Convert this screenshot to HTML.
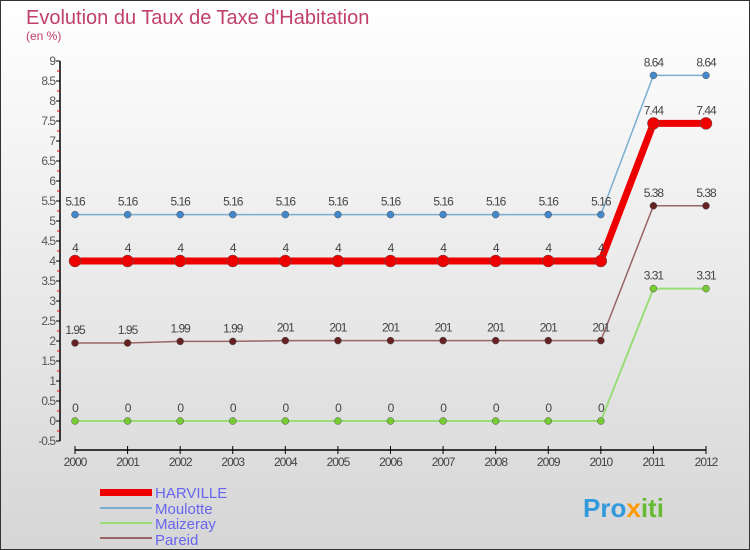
<!DOCTYPE html>
<html><head><meta charset="utf-8"><style>
body{margin:0;width:750px;height:550px;overflow:hidden;font-family:"Liberation Sans",sans-serif}
svg{display:block}
</style></head><body>
<svg id="chart" width="750" height="550" xmlns="http://www.w3.org/2000/svg">
<defs><linearGradient id="bg" x1="0" y1="0" x2="0" y2="1"><stop offset="0" stop-color="#ffffff"/><stop offset="1" stop-color="#d6d6d6"/></linearGradient></defs>
<rect x="0.5" y="0.5" width="749" height="549" fill="url(#bg)" stroke="#333"/>
<text x="26" y="24" font-size="20" fill="#c0406a">Evolution du Taux de Taxe d'Habitation</text>
<text x="26" y="40" font-size="12" fill="#c0406a">(en %)</text>
<g id="axes"></g><g id="series"></g>
<g>
<rect x="100" y="489" width="52" height="7" fill="#ee0000"/>
<text x="155" y="498" font-size="15" fill="#6666ee">HARVILLE</text>
<line x1="100" y1="508" x2="152" y2="508" stroke="#7aaed0" stroke-width="2"/>
<text x="155" y="514" font-size="15" fill="#6666ee">Moulotte</text>
<line x1="100" y1="523" x2="152" y2="523" stroke="#99dd77" stroke-width="2"/>
<text x="155" y="529" font-size="15" fill="#6666ee">Maizeray</text>
<line x1="100" y1="538" x2="152" y2="538" stroke="#996666" stroke-width="2"/>
<text x="155" y="545" font-size="15" fill="#6666ee">Pareid</text>
</g>
<text x="583" y="517" font-size="26" font-weight="bold" fill="#3399dd">Pro<tspan fill="#ff9900">x</tspan><tspan fill="#66bb33">iti</tspan></text>
</svg>
<script>
const years=[2000,2001,2002,2003,2004,2005,2006,2007,2008,2009,2010,2011,2012];
const harville=[4,4,4,4,4,4,4,4,4,4,4,7.44,7.44];
const moulotte=[5.16,5.16,5.16,5.16,5.16,5.16,5.16,5.16,5.16,5.16,5.16,8.64,8.64];
const maizeray=[0,0,0,0,0,0,0,0,0,0,0,3.31,3.31];
const pareid=[1.95,1.95,1.99,1.99,2.01,2.01,2.01,2.01,2.01,2.01,2.01,5.38,5.38];
const yTicks=[-0.5,0,0.5,1,1.5,2,2.5,3,3.5,4,4.5,5,5.5,6,6.5,7,7.5,8,8.5,9];
const NS="http://www.w3.org/2000/svg";
const x=i=>75+i*(706-75)/(years.length-1);
const y=v=>421-v*40;
function mk(tag,attrs,parent){const e=document.createElementNS(NS,tag);for(const k in attrs)e.setAttribute(k,attrs[k]);parent.appendChild(e);return e;}
const ax=document.getElementById('axes');
let a=mk('line',{x1:60,y1:y(9),x2:60,y2:y(-0.5),stroke:'#000','stroke-width':1.5},ax);


yTicks.forEach((v,k)=>{
  mk('line',{x1:56,y1:y(v),x2:60,y2:y(v),stroke:'#000'},ax);
  if(k<yTicks.length-1) mk('line',{x1:57,y1:y(v+0.25),x2:60,y2:y(v+0.25),stroke:'#e00'},ax);
  const t=mk('text',{x:55,y:y(v)+4,'font-size':12,fill:'#555','text-anchor':'end','letter-spacing':'-1'},ax);
  t.textContent=String(v);
  
  
});
a=mk('line',{x1:75,y1:450,x2:706,y2:450,stroke:'#000','stroke-width':1.5},ax);


years.forEach((yr,i)=>{
  mk('line',{x1:x(i),y1:446,x2:x(i),y2:454,stroke:'#000'},ax);
  const t=mk('text',{x:x(i),y:466,'font-size':12,fill:'#444','text-anchor':'middle','letter-spacing':'-1'},ax);
  t.textContent=yr;
  
  
});
const sg=document.getElementById('series');
function fmt(v){return v===0?'0':(Number.isInteger(v)?String(v):String(v).replace('2.01','201'));}
function draw(vals,color,w,r,dot,name){
  const g=mk('g',{},sg);
  
  
  mk('polyline',{points:vals.map((v,i)=>x(i)+','+y(v)).join(' '),fill:'none',stroke:color,'stroke-width':w},g);
  vals.forEach((v,i)=>{
    const c=mk('circle',{cx:x(i),cy:y(v),r:r,fill:dot,stroke:'#555','stroke-width':0.5},g);
    
    
    const t=mk('text',{x:x(i),y:y(v)-9,'font-size':12,fill:'#444','text-anchor':'middle','letter-spacing':'-1'},g);
    t.textContent=fmt(v);
    
    
  });
}
draw(maizeray,'#99dd77',2,3.5,'#77cc33','maizeray');
draw(pareid,'#996666',1.5,3.5,'#662222','pareid');
draw(moulotte,'#7aaed0',1.5,3.5,'#4488cc','moulotte');
draw(harville,'#ee0000',7,6,'#ee0000','harville');
</script>
</body></html>
